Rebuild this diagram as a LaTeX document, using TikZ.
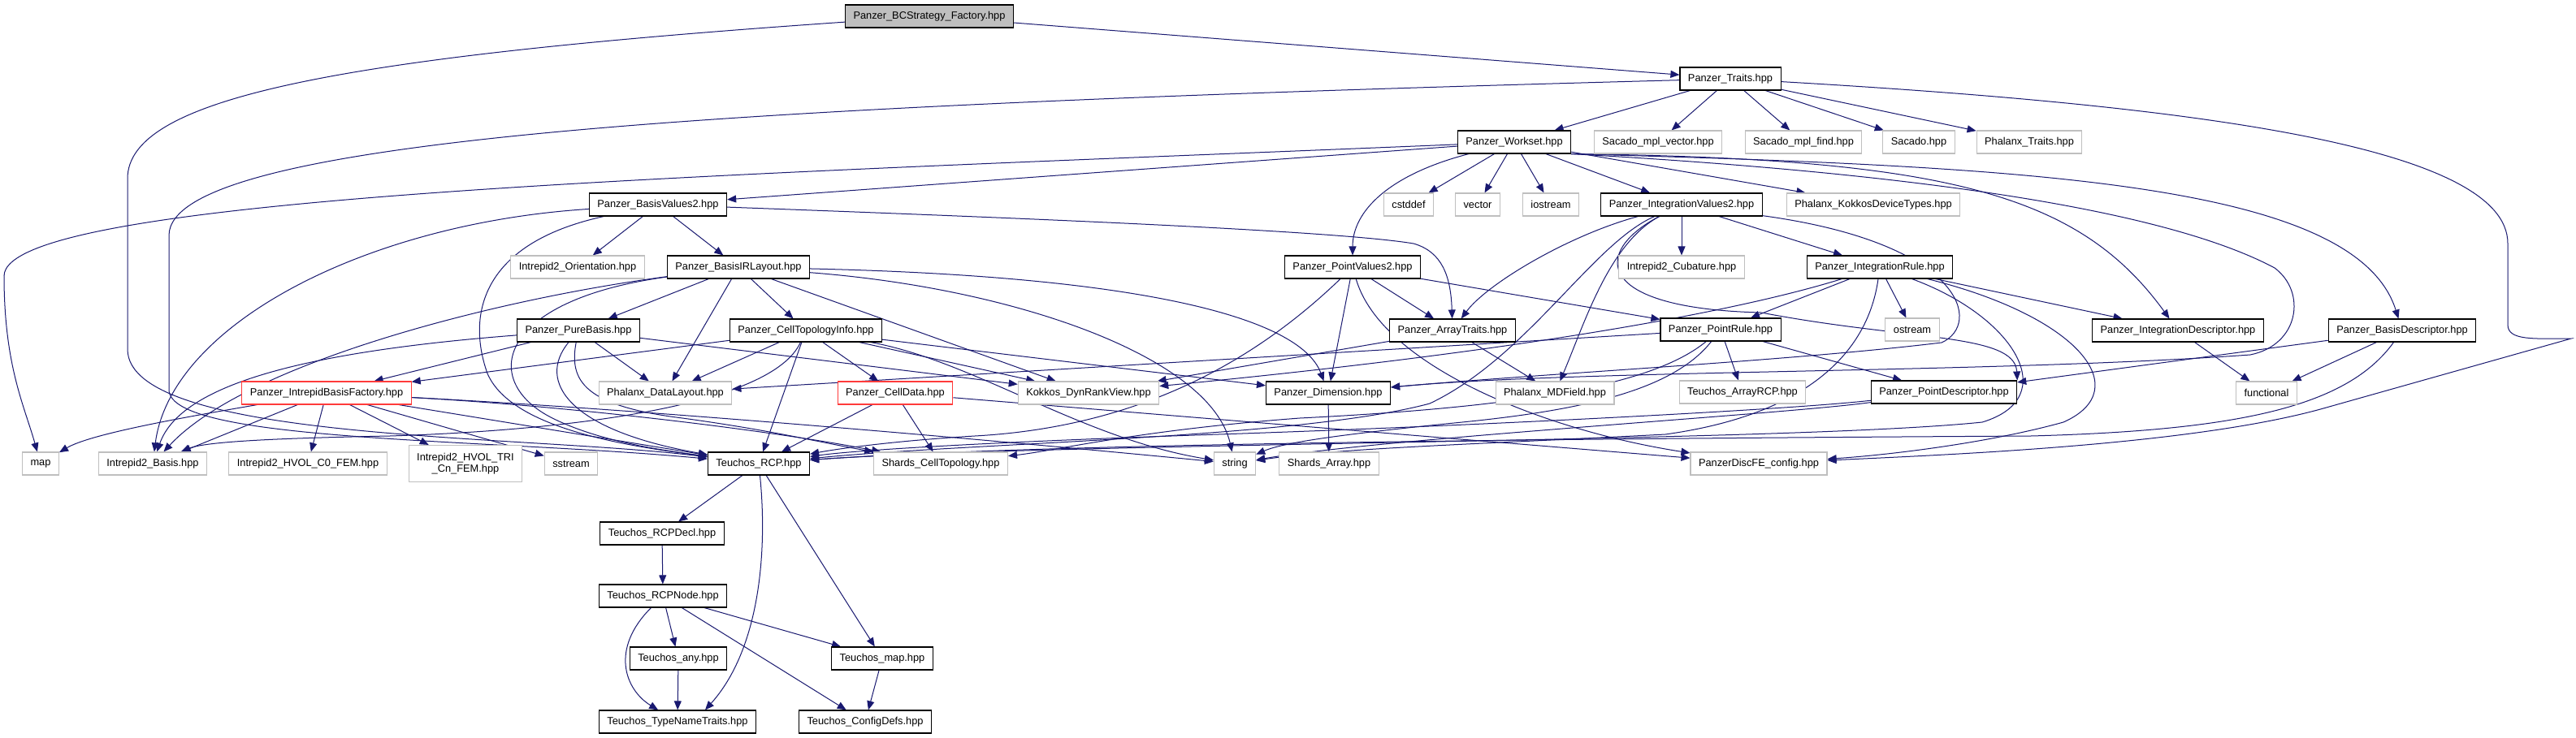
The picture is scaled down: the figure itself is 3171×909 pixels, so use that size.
\documentclass[tikz,border=0pt]{standalone}
\usepackage{fontspec}
\setmainfont{Liberation Sans}
\usetikzlibrary{arrows.meta}
\pgfdeclarelayer{paper}
\pgfdeclarelayer{edges}
\pgfsetlayers{paper,edges,main}

\definecolor{edgeblue}{HTML}{191970}
\definecolor{extgray}{HTML}{BFBFBF}
\definecolor{truncred}{HTML}{FF3B3B}
\newcommand\depfont{\fontsize{12.8}{14}\selectfont}

\begin{document}
\begin{tikzpicture}[x=1pt,y=-1pt,
  hdr/.style={draw=black,line width=1.1pt,fill=white,font=\depfont,inner xsep=10pt,inner ysep=0pt,minimum height=28pt},
  ext/.style={hdr,draw=extgray},
  trunc/.style={hdr,draw=truncred},
  root/.style={hdr,fill=extgray},
  dep/.style={draw=edgeblue,line width=1pt,-{Triangle[length=11pt,width=9pt]}}]

\begin{pgfonlayer}{paper}
\path[fill=white,use as bounding box] (0,0) rectangle (3171,909);
\end{pgfonlayer}

% headers, row by row
\node[root] (bcs) at (1144,20) {Panzer\_BCStrategy\_Factory.hpp};
\node[hdr] (traits) at (2130,97) {Panzer\_Traits.hpp};
\node[hdr] (workset) at (1864,175) {Panzer\_Workset.hpp};
\node[ext] (mplvec) at (2041,175) {Sacado\_mpl\_vector.hpp};
\node[ext] (mplfind) at (2220,175) {Sacado\_mpl\_find.hpp};
\node[ext] (sacado) at (2362,175) {Sacado.hpp};
\node[ext] (phxtraits) at (2498,175) {Phalanx\_Traits.hpp};
\node[hdr] (basisval) at (810,252) {Panzer\_BasisValues2.hpp};
\node[ext] (cstddef) at (1734,252) {cstddef};
\node[ext] (vector) at (1819,252) {vector};
\node[ext] (iostream) at (1909,252) {iostream};
\node[hdr] (intval) at (2070,252) {Panzer\_IntegrationValues2.hpp};
\node[ext] (kokkosdev) at (2306,252) {Phalanx\_KokkosDeviceTypes.hpp};
\node[ext] (orient) at (711,329) {Intrepid2\_Orientation.hpp};
\node[hdr] (basisir) at (909,329) {Panzer\_BasisIRLayout.hpp};
\node[hdr] (pointval) at (1665,329) {Panzer\_PointValues2.hpp};
\node[ext] (cubature) at (2070,329) {Intrepid2\_Cubature.hpp};
\node[hdr] (introle) at (2314,329) {Panzer\_IntegrationRule.hpp};
\node[hdr] (purebasis) at (712,407) {Panzer\_PureBasis.hpp};
\node[hdr] (celltopo) at (992,407) {Panzer\_CellTopologyInfo.hpp};
\node[hdr] (arraytr) at (1788,407) {Panzer\_ArrayTraits.hpp};
\node[hdr] (pointrule) at (2118,406) {Panzer\_PointRule.hpp};
\node[ext] (ostream) at (2354,406) {ostream};
\node[hdr] (intdesc) at (2681,407) {Panzer\_IntegrationDescriptor.hpp};
\node[hdr] (basisdesc) at (2957,407) {Panzer\_BasisDescriptor.hpp};
\node[trunc] (ibfactory) at (402,484) {Panzer\_IntrepidBasisFactory.hpp};
\node[ext] (datalayout) at (819,484) {Phalanx\_DataLayout.hpp};
\node[trunc] (celldata) at (1102,484) {Panzer\_CellData.hpp};
\node[ext] (dynrank) at (1340,484) {Kokkos\_DynRankView.hpp};
\node[hdr] (dimension) at (1635,484) {Panzer\_Dimension.hpp};
\node[ext] (mdfield) at (1914,484) {Phalanx\_MDField.hpp};
\node[ext] (arrayrcp) at (2145,483) {Teuchos\_ArrayRCP.hpp};
\node[hdr] (pointdesc) at (2393,483) {Panzer\_PointDescriptor.hpp};
\node[ext] (functional) at (2790,484) {functional};
\node[ext] (map) at (50,571) {map};
\node[ext] (ibasis) at (188,571) {Intrepid2\_Basis.hpp};
\node[ext] (hvolc0) at (379,571) {Intrepid2\_HVOL\_C0\_FEM.hpp};
\node[ext,align=center,minimum height=45pt] (hvoltri) at (573,571) {Intrepid2\_HVOL\_TRI\\\_Cn\_FEM.hpp};
\node[ext] (sstream) at (703,571) {sstream};
\node[hdr] (rcp) at (934,571) {Teuchos\_RCP.hpp};
\node[ext] (shardsct) at (1158,571) {Shards\_CellTopology.hpp};
\node[ext] (string) at (1520,571) {string};
\node[ext] (shardsarr) at (1636,571) {Shards\_Array.hpp};
\node[ext] (discfe) at (2165,571) {PanzerDiscFE\_config.hpp};
\node[hdr] (rcpdecl) at (815,657) {Teuchos\_RCPDecl.hpp};
\node[hdr] (rcpnode) at (816,734) {Teuchos\_RCPNode.hpp};
\node[hdr] (tany) at (835,811) {Teuchos\_any.hpp};
\node[hdr] (tmap) at (1086,811) {Teuchos\_map.hpp};
\node[hdr] (typename) at (834,889) {Teuchos\_TypeNameTraits.hpp};
\node[hdr] (configdefs) at (1065,889) {Teuchos\_ConfigDefs.hpp};

\begin{pgfonlayer}{edges}
% includes of the top files
\draw[dep] (bcs) -- (traits);
\draw[dep] (bcs) .. controls (420,70) and (157,120) .. (157,220) -- (157,430) .. controls (157,545) and (650,535) .. (rcp);
\draw[dep] (traits) -- (workset);
\draw[dep] (traits) -- (mplvec);
\draw[dep] (traits) -- (mplfind);
\draw[dep] (traits) -- (sacado);
\draw[dep] (traits) -- (phxtraits);
\draw[dep] (traits) .. controls (900,130) and (208,170) .. (208,290) -- (208,480) .. controls (208,545) and (600,540) .. (rcp);
\draw[dep] (traits) .. controls (2700,130) and (3087,180) .. (3087,300) -- (3087,400) .. controls (3087,420) and (3120,417) .. (3165,417) -- (2860,503) .. controls (2700,548) and (2400,560) .. (discfe);

% workset
\draw[dep] (workset) .. controls (900,215) and (5,240) .. (5,340) .. controls (5,450) and (30,500) .. (map);
\draw[dep] (workset) -- (basisval);
\draw[dep] (workset) -- (cstddef);
\draw[dep] (workset) -- (vector);
\draw[dep] (workset) -- (iostream);
\draw[dep] (workset) -- (intval);
\draw[dep] (workset) -- (kokkosdev);
\draw[dep] (workset) .. controls (1710,215) and (1665,260) .. (pointval);
\draw[dep] (workset.south east) .. controls (2400,195) and (2560,240) .. (intdesc);
\draw[dep] (workset.south east) .. controls (2300,210) and (2650,250) .. (2800,330) .. controls (2840,360) and (2830,425) .. (2770,437) .. controls (2450,460) and (1950,455) .. (dimension);
\draw[dep] (workset.south east) .. controls (2500,205) and (2900,225) .. (basisdesc);

% basis side
\draw[dep] (basisval) -- (orient);
\draw[dep] (basisval) -- (basisir);
\draw[dep] (basisval) .. controls (450,275) and (210,400) .. (ibasis);
\draw[dep] (basisval) .. controls (590,300) and (575,390) .. (600,460) .. controls (630,530) and (780,550) .. (rcp);
\draw[dep] (basisval) .. controls (1300,270) and (1650,285) .. (1740,300) .. controls (1775,310) and (1786,340) .. (arraytr);
\draw[dep] (basisir) -- (purebasis);
\draw[dep] (basisir) -- (celltopo);
\draw[dep] (basisir) -- (datalayout);
\draw[dep] (basisir) -- (dynrank);
\draw[dep] (basisir) .. controls (600,370) and (300,450) .. (ibasis);
\draw[dep] (basisir) .. controls (610,370) and (590,470) .. (680,515) .. controls (740,545) and (820,555) .. (rcp);
\draw[dep] (basisir) .. controls (1400,340) and (1600,390) .. (dimension);
\draw[dep] (basisir) .. controls (1250,355) and (1490,440) .. (string);
\draw[dep] (purebasis) -- (ibfactory);
\draw[dep] (purebasis) -- (datalayout);
\draw[dep] (purebasis) -- (dynrank);
\draw[dep] (purebasis) .. controls (350,435) and (220,480) .. (ibasis);
\draw[dep] (purebasis) .. controls (660,470) and (700,530) .. (rcp);
\draw[dep] (purebasis) .. controls (700,470) and (720,500) .. (840,515) .. controls (950,530) and (1010,545) .. (shardsct);
\draw[dep] (celltopo) -- (ibfactory);
\draw[dep] (celltopo) -- (datalayout);
\draw[dep] (celltopo) -- (celldata);
\draw[dep] (celltopo) -- (rcp);
\draw[dep] (celltopo) -- (dynrank);
\draw[dep] (celltopo) -- (dimension);
\draw[dep] (celltopo) .. controls (950,500) and (700,530) .. (480,537) .. controls (320,540) and (250,545) .. (ibasis);
\draw[dep] (celltopo) .. controls (1200,445) and (1330,540) .. (string);
\draw[dep] (ibfactory) .. controls (220,515) and (110,535) .. (map);
\draw[dep] (ibfactory) -- (ibasis);
\draw[dep] (ibfactory) -- (hvolc0);
\draw[dep] (ibfactory) -- (hvoltri);
\draw[dep] (ibfactory) -- (sstream);
\draw[dep] (ibfactory) -- (rcp);
\draw[dep] (ibfactory) .. controls (700,500) and (950,530) .. (shardsct);
\draw[dep] (ibfactory) .. controls (800,505) and (1200,540) .. (string);
\draw[dep] (celldata) -- (rcp);
\draw[dep] (celldata) -- (shardsct);
\draw[dep] (celldata) -- (discfe);

% point and integration side
\draw[dep] (pointval) -- (dimension);
\draw[dep] (pointval) -- (arraytr);
\draw[dep] (pointval) -- (pointrule);
\draw[dep] (pointval) .. controls (1560,430) and (1420,525) .. (1200,537) .. controls (1100,543) and (1030,553) .. (rcp);
\draw[dep] (pointval) .. controls (1700,450) and (1900,530) .. (discfe);
\draw[dep] (arraytr) -- (mdfield);
\draw[dep] (arraytr) -- (dynrank);
\draw[dep] (intval) -- (cubature);
\draw[dep] (intval) -- (introle);
\draw[dep] (intval) .. controls (1930,290) and (1830,350) .. (arraytr);
\draw[dep] (intval) .. controls (1960,300) and (1880,440) .. (1760,497) .. controls (1600,540) and (1200,545) .. (rcp);
\draw[dep] (intval) .. controls (1980,300) and (1950,400) .. (mdfield);
\draw[dep] (intval) .. controls (1960,310) and (1960,380) .. (2168,385) .. controls (2350,420) and (2480,410) .. (pointdesc.north east);
\draw[dep] (intval) .. controls (2420,300) and (2440,400) .. (2390,422) .. controls (2200,445) and (1900,460) .. (dimension);
\draw[dep] (introle) -- (pointrule);
\draw[dep] (introle) -- (ostream);
\draw[dep] (introle) -- (intdesc);
\draw[dep] (introle) .. controls (2150,380) and (1900,430) .. (dynrank);
\draw[dep] (introle) .. controls (2560,390) and (2630,480) .. (2540,520) .. controls (2450,545) and (2330,560) .. (discfe);
\draw[dep] (introle) .. controls (2300,430) and (2230,510) .. (2050,535) .. controls (1800,548) and (1650,552) .. (string);
\draw[dep] (introle) .. controls (2480,390) and (2540,490) .. (2440,520) .. controls (2200,545) and (1300,545) .. (rcp);
\draw[dep] (pointrule) -- (arrayrcp);
\draw[dep] (pointrule) -- (pointdesc);
\draw[dep] (pointrule) -- (datalayout);
\draw[dep] (pointrule) .. controls (2060,480) and (1950,505) .. (1800,520) .. controls (1650,535) and (1580,545) .. (string);
\draw[dep] (pointrule) .. controls (2040,470) and (1900,500) .. (1600,515) .. controls (1400,530) and (1300,555) .. (shardsct);
\draw[dep] (pointdesc) .. controls (2200,505) and (1800,525) .. (1500,535) .. controls (1200,545) and (1050,555) .. (rcp);
\draw[dep] (pointdesc) .. controls (2200,510) and (1700,540) .. (string);
\draw[dep] (intdesc) -- (functional);
\draw[dep] (basisdesc) -- (functional);
\draw[dep] (basisdesc) -- (pointdesc);
\draw[dep] (basisdesc) .. controls (2890,500) and (2760,530) .. (2500,537) .. controls (2000,540) and (1300,545) .. (rcp);
\draw[dep] (dimension) -- (shardsarr);

% teuchos part
\draw[dep] (rcp) -- (rcpdecl);
\draw[dep] (rcp) -- (tmap);
\draw[dep] (rcp) .. controls (945,680) and (935,800) .. ([xshift=34pt]typename.north);
\draw[dep] (rcpdecl) -- (rcpnode);
\draw[dep] (rcpnode) -- (tany);
\draw[dep] (rcpnode) -- (tmap);
\draw[dep] (rcpnode) -- (configdefs);
\draw[dep] (rcpnode) .. controls (750,800) and (770,850) .. (typename);
\draw[dep] (tany) -- (typename);
\draw[dep] (tmap) -- (configdefs);
\end{pgfonlayer}
\end{tikzpicture}
\end{document}
